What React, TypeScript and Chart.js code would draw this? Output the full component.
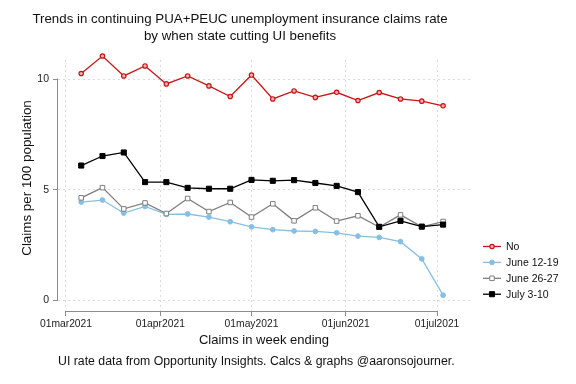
import React, { useEffect, useRef } from "react";
import { Chart, registerables } from "chart.js";
Chart.register(...registerables);

// ---- data ----
const weekEnding = [
  "2021-03-06", "2021-03-13", "2021-03-20", "2021-03-27", "2021-04-03", "2021-04-10",
  "2021-04-17", "2021-04-24", "2021-05-01", "2021-05-08", "2021-05-15", "2021-05-22",
  "2021-05-29", "2021-06-05", "2021-06-12", "2021-06-19", "2021-06-26", "2021-07-03",
];
const seriesNo = [10.26, 11.05, 10.15, 10.6, 9.79, 10.15, 9.7, 9.22, 10.19, 9.11, 9.47, 9.18, 9.41, 9.04, 9.4, 9.11, 9.01, 8.8];
const seriesJune1219 = [4.45, 4.54, 3.95, 4.25, 3.89, 3.91, 3.77, 3.56, 3.33, 3.2, 3.14, 3.12, 3.06, 2.91, 2.85, 2.66, 1.88, 0.24];
const seriesJune2627 = [4.64, 5.1, 4.14, 4.41, 3.93, 4.61, 4.02, 4.43, 3.77, 4.37, 3.6, 4.19, 3.59, 3.83, 3.32, 3.87, 3.33, 3.57];
const seriesJuly310 = [6.1, 6.53, 6.69, 5.35, 5.35, 5.09, 5.05, 5.05, 5.45, 5.41, 5.44, 5.31, 5.18, 4.9, 3.33, 3.6, 3.34, 3.43];
const seriesLabels = ["No", "June 12-19", "June 26-27", "July 3-10"];
const xTickDates = ["2021-03-01", "2021-04-01", "2021-05-01", "2021-06-01", "2021-07-01"];
const xTickLabels = ["01mar2021", "01apr2021", "01may2021", "01jun2021", "01jul2021"];
const yTicks = [0, 5, 10];
const titleLines = [
  "Trends in continuing PUA+PEUC unemployment insurance claims rate",
  "by when state cutting UI benefits",
];
const xTitle = "Claims in week ending";
const yTitle = "Claims per 100 population";
const noteText = "UI rate data from Opportunity Insights. Calcs & graphs @aaronsojourner.";

const ORIGIN = Date.parse("2021-03-01");
const dayOf = (d: string) => Math.round((Date.parse(d) - ORIGIN) / 86400000);

const FONT = "'Liberation Sans', Arial, sans-serif";

const styles = [
  { color: "#c81414", pointStyle: "circle", radius: 2.2, bg: "#f0b0b0", bw: 1.2 },
  { color: "#86bfe2", pointStyle: "circle", radius: 2.4, bg: "#86bfe2", bw: 1 },
  { color: "#7f7f7f", pointStyle: "rect", radius: 3.2, bg: "#ffffff", bw: 1 },
  { color: "#000000", pointStyle: "rect", radius: 3.6, bg: "#000000", bw: 1 },
];

export default function App() {
  const ref = useRef<HTMLCanvasElement | null>(null);
  useEffect(() => {
    document.body.style.margin = "0";
    const canvas = ref.current!;
    const xs = weekEnding.map(dayOf);
    const all = [seriesNo, seriesJune1219, seriesJune2627, seriesJuly310];
    const datasets = all.map((vals, i) => ({
      label: seriesLabels[i],
      data: vals.map((v, j) => ({ x: xs[j], y: v })),
      borderColor: styles[i].color,
      backgroundColor: styles[i].bg,
      pointBackgroundColor: styles[i].bg,
      pointBorderColor: styles[i].color,
      pointBorderWidth: styles[i].bw,
      pointStyle: styles[i].pointStyle as any,
      pointRadius: styles[i].radius,
      borderWidth: 1.3,
      tension: 0,
      clip: false as any,
      order: 3 - i,
    }));

    const deco = {
      id: "deco",
      afterDraw(chart: any) {
        const { ctx, chartArea } = chart;
        const x = chart.scales.x;
        const y = chart.scales.y;
        ctx.save();
        ctx.strokeStyle = "#8c8c8c";
        ctx.lineWidth = 1;
        const ax = Math.round(chartArea.left) - 0.5;
        ctx.beginPath();
        ctx.moveTo(ax, Math.round(y.getPixelForValue(yTicks[0])) + 0.5);
        ctx.lineTo(ax, Math.round(y.getPixelForValue(yTicks[yTicks.length - 1])) - 0.5);
        ctx.stroke();
        const ay = Math.round(chartArea.bottom) + 0.5;
        const xt = xTickDates.map(dayOf);
        ctx.beginPath();
        ctx.moveTo(Math.round(x.getPixelForValue(xt[0])) - 0.5, ay);
        ctx.lineTo(Math.round(x.getPixelForValue(xt[xt.length - 1])) + 0.5, ay);
        ctx.stroke();

        ctx.fillStyle = "#111";
        ctx.textAlign = "center";
        ctx.textBaseline = "middle";
        ctx.font = `13.3px ${FONT}`;
        ctx.fillText(titleLines[0], 240, 19);
        ctx.fillText(titleLines[1], 240, 36);

        ctx.font = `13px ${FONT}`;
        ctx.fillText(xTitle, (chartArea.left + chartArea.right) / 2, 340);
        ctx.save();
        ctx.translate(27, 178);
        ctx.rotate(-Math.PI / 2);
        ctx.font = `13.4px ${FONT}`;
        ctx.fillText(yTitle, 0, 0);
        ctx.restore();

        ctx.textAlign = "left";
        ctx.font = `12.3px ${FONT}`;
        ctx.fillText(noteText, 58, 362);

        ctx.font = `10.5px ${FONT}`;
        const ly0 = 246.5;
        const lstep = 15.9;
        chart.data.datasets.forEach((ds: any, i: number) => {
          const ly = ly0 + i * lstep;
          ctx.strokeStyle = ds.borderColor;
          ctx.lineWidth = 1.3;
          ctx.beginPath();
          ctx.moveTo(483, ly);
          ctx.lineTo(501, ly);
          ctx.stroke();
          const st = styles[i];
          ctx.lineWidth = st.bw;
          ctx.fillStyle = st.bg;
          ctx.beginPath();
          if (st.pointStyle === "rect") {
            const s = st.radius * Math.SQRT1_2;
            ctx.rect(492 - s, ly - s, 2 * s, 2 * s);
          } else {
            ctx.arc(492, ly, st.radius, 0, Math.PI * 2);
          }
          ctx.fill();
          ctx.stroke();
          ctx.fillStyle = "#111";
          ctx.fillText(ds.label, 506, ly + 0.5);
        });
        ctx.restore();
      },
    };

    const chart = new Chart(canvas, {
      type: "line",
      data: { datasets: datasets as any },
      options: {
        animation: false,
        responsive: false,
        maintainAspectRatio: false,
        layout: { padding: { left: 0, top: 60, right: 106, bottom: 0 } },
        plugins: { legend: { display: false }, title: { display: false }, tooltip: { enabled: false } },
        scales: {
          x: {
            type: "linear",
            min: -2.63,
            max: 132.85,
            afterFit: (s: any) => { s.height = 73; },
            afterBuildTicks: (s: any) => { s.ticks = xTickDates.map((d) => ({ value: dayOf(d) })); },
            ticks: {
              autoSkip: false,
              maxRotation: 0,
              padding: 2,
              color: "#222",
              font: { family: FONT, size: 10.3 },
              callback: (v: any) => {
                const idx = xTickDates.map(dayOf).indexOf(Number(v));
                return idx >= 0 ? xTickLabels[idx] : "";
              },
            },
            grid: { color: "#dadada", tickColor: "#8c8c8c", tickLength: 5, drawTicks: true, lineWidth: 1 },
            border: { display: false, dash: [2, 3] },
          },
          y: {
            type: "linear",
            min: -0.475,
            max: 10.87,
            afterFit: (s: any) => { s.width = 58; },
            afterBuildTicks: (s: any) => { s.ticks = yTicks.map((v) => ({ value: v })); },
            ticks: {
              padding: 4,
              color: "#222",
              font: { family: FONT, size: 10.5 },
              callback: (v: any) => String(v),
            },
            grid: { color: "#dadada", tickColor: "#8c8c8c", tickLength: 5, drawTicks: true, lineWidth: 1 },
            border: { display: false, dash: [2, 3] },
          },
        },
      },
      plugins: [deco],
    });
    return () => chart.destroy();
  }, []);
  return (
    <div style={{ width: 576, height: 384, background: "#fff" }}>
      <canvas ref={ref} width={576} height={384} style={{ display: "block" }} />
    </div>
  );
}
